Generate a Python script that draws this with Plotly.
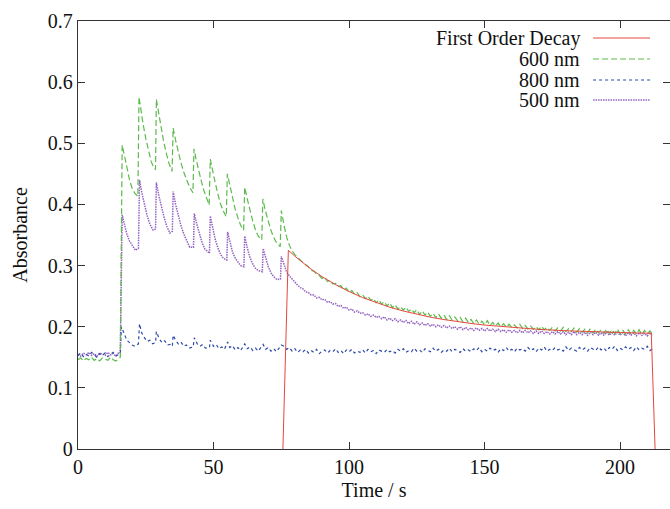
import plotly.graph_objects as go

# ---------------- data ----------------
base_t = [0, 1, 2, 3, 4, 5, 6, 7, 8, 9, 10, 11, 12, 13, 14, 15]
green_base = [0.146, 0.149, 0.144, 0.148, 0.146, 0.150, 0.145, 0.148, 0.144, 0.149, 0.147, 0.145, 0.150, 0.146, 0.144, 0.148]
purple_base = [0.155, 0.152, 0.157, 0.154, 0.158, 0.153, 0.156, 0.152, 0.157, 0.155, 0.153, 0.158, 0.154, 0.156, 0.152, 0.157]
blue_base = [0.153, 0.157, 0.151, 0.155, 0.152, 0.158, 0.154, 0.150, 0.156, 0.153, 0.157, 0.151, 0.155, 0.158, 0.152, 0.154]

green_saw_t = [15.6, 16.3, 17.0, 18.0, 19.0, 20.0, 21.0, 22.1, 22.5, 23.0, 24.0, 25.0, 26.0, 27.0, 28.0, 28.6,
               28.9, 29.5, 30.5, 31.5, 32.5, 33.5, 34.7, 35.1, 36.0, 37.0, 38.0, 39.0, 40.0, 41.0, 42.4,
               42.8, 43.5, 44.5, 45.5, 46.5, 47.5, 48.4, 48.8, 49.5, 50.5, 51.5, 52.5, 53.5, 54.7,
               55.1, 56.0, 57.0, 58.0, 59.0, 60.0, 61.1, 61.5, 62.5, 63.5, 64.5, 65.5, 66.5, 67.8,
               68.2, 69.0, 70.0, 71.0, 72.0, 73.0, 74.6, 75.0]
green_saw = [0.150, 0.497, 0.480, 0.462, 0.440, 0.426, 0.418, 0.413, 0.576, 0.560, 0.532, 0.508, 0.488, 0.470, 0.460, 0.457,
             0.572, 0.555, 0.528, 0.505, 0.485, 0.468, 0.454, 0.525, 0.505, 0.485, 0.468, 0.453, 0.440, 0.430, 0.419,
             0.491, 0.475, 0.455, 0.438, 0.422, 0.408, 0.399, 0.474, 0.458, 0.438, 0.419, 0.402, 0.390, 0.380,
             0.450, 0.432, 0.410, 0.392, 0.378, 0.366, 0.358, 0.428, 0.408, 0.388, 0.372, 0.358, 0.348, 0.342,
             0.409, 0.392, 0.375, 0.360, 0.348, 0.339, 0.331, 0.390]

purple_saw_t = [15.6, 16.3, 17.0, 18.0, 19.0, 20.0, 21.2, 22.3, 22.7, 23.5, 24.5, 25.5, 26.5, 27.7, 28.6,
                28.9, 29.8, 30.8, 31.8, 32.8, 33.9, 34.8, 35.1, 36.0, 37.0, 38.0, 39.0, 40.0, 41.2, 42.6,
                42.9, 43.8, 44.8, 45.8, 46.8, 48.5, 48.8, 49.6, 50.6, 51.6, 52.6, 53.6, 54.9,
                55.2, 56.0, 57.0, 58.0, 59.0, 60.0, 61.2, 61.5, 62.4, 63.4, 64.4, 65.4, 66.4, 68.0,
                68.3, 69.2, 70.2, 71.2, 72.2, 73.4, 74.7, 75.0]
purple_saw = [0.157, 0.383, 0.370, 0.352, 0.340, 0.333, 0.325, 0.328, 0.440, 0.420, 0.400, 0.382, 0.368, 0.358, 0.360,
              0.436, 0.415, 0.395, 0.378, 0.364, 0.353, 0.356, 0.421, 0.400, 0.380, 0.365, 0.352, 0.342, 0.330, 0.330,
              0.385, 0.368, 0.350, 0.337, 0.327, 0.320, 0.381, 0.362, 0.343, 0.329, 0.318, 0.312, 0.309,
              0.355, 0.338, 0.322, 0.312, 0.305, 0.300, 0.298, 0.348, 0.330, 0.314, 0.303, 0.296, 0.292, 0.290,
              0.328, 0.312, 0.298, 0.288, 0.282, 0.277, 0.278, 0.315]

blue_saw_t = [15.6, 16.0, 17.0, 18.0, 19.0, 20.0, 21.0, 22.3, 22.7, 23.5, 24.5, 25.5, 26.5, 27.5, 28.6,
              28.9, 30.0, 31.0, 32.0, 33.0, 34.0, 34.8, 35.1, 36.0, 37.0, 38.0, 39.0, 40.0, 41.0, 42.5,
              42.9, 44.0, 45.0, 46.0, 47.0, 48.5, 48.8, 50.0, 51.0, 52.0, 53.0, 54.0,
              55.2, 56.0, 57.0, 58.0, 59.0, 60.0, 61.5, 62.5, 63.5, 64.5, 65.5, 66.5,
              68.3, 69.2, 70.2, 71.2, 72.2, 73.2, 75.0]
blue_saw = [0.156, 0.200, 0.188, 0.178, 0.174, 0.170, 0.168, 0.172, 0.205, 0.190, 0.182, 0.176, 0.178, 0.172, 0.174,
            0.192, 0.180, 0.174, 0.177, 0.170, 0.171, 0.168, 0.186, 0.178, 0.172, 0.175, 0.168, 0.170, 0.165, 0.167,
            0.182, 0.172, 0.168, 0.171, 0.165, 0.166, 0.178, 0.168, 0.171, 0.164, 0.167, 0.163,
            0.175, 0.166, 0.169, 0.162, 0.166, 0.161, 0.172, 0.164, 0.167, 0.161, 0.165, 0.160,
            0.171, 0.163, 0.166, 0.160, 0.164, 0.159, 0.170]

tail_t = list(range(76, 213))
green_tail = [
    0.366, 0.346, 0.333, 0.324, 0.318, 0.313, 0.309, 0.305, 0.301, 0.298,
    0.292, 0.291, 0.286, 0.284, 0.279, 0.281, 0.274, 0.276, 0.270, 0.271,
    0.266, 0.267, 0.260, 0.263, 0.256, 0.259, 0.253, 0.256, 0.249, 0.252,
    0.246, 0.250, 0.243, 0.246, 0.239, 0.244, 0.237, 0.241, 0.234, 0.239,
    0.231, 0.236, 0.229, 0.233, 0.227, 0.232, 0.225, 0.229, 0.223, 0.228,
    0.220, 0.226, 0.219, 0.224, 0.217, 0.222, 0.215, 0.221, 0.214, 0.219,
    0.212, 0.218, 0.211, 0.216, 0.210, 0.215, 0.208, 0.214, 0.207, 0.212,
    0.205, 0.211, 0.204, 0.209, 0.203, 0.210, 0.202, 0.207, 0.201, 0.206,
    0.200, 0.205, 0.199, 0.204, 0.199, 0.203, 0.198, 0.204, 0.197, 0.202,
    0.196, 0.201, 0.196, 0.200, 0.195, 0.201, 0.195, 0.199, 0.194, 0.199,
    0.193, 0.198, 0.193, 0.199, 0.192, 0.197, 0.192, 0.198, 0.191, 0.197,
    0.191, 0.196, 0.190, 0.197, 0.190, 0.196, 0.190, 0.195, 0.189, 0.196,
    0.189, 0.195, 0.189, 0.196, 0.188, 0.194, 0.188, 0.195, 0.188, 0.194,
    0.188, 0.195, 0.187, 0.194, 0.188, 0.193, 0.188]
purple_tail = [
    0.300, 0.289, 0.283, 0.277, 0.273, 0.268, 0.264, 0.262, 0.257, 0.256,
    0.252, 0.252, 0.247, 0.248, 0.244, 0.245, 0.240, 0.241, 0.237, 0.238,
    0.233, 0.235, 0.230, 0.232, 0.227, 0.229, 0.224, 0.226, 0.222, 0.223,
    0.219, 0.221, 0.217, 0.219, 0.215, 0.217, 0.213, 0.216, 0.211, 0.214,
    0.210, 0.213, 0.208, 0.211, 0.207, 0.210, 0.205, 0.209, 0.204, 0.208,
    0.203, 0.206, 0.202, 0.205, 0.201, 0.204, 0.200, 0.203, 0.199, 0.202,
    0.198, 0.201, 0.197, 0.200, 0.196, 0.200, 0.195, 0.199, 0.195, 0.198,
    0.194, 0.198, 0.194, 0.197, 0.193, 0.197, 0.193, 0.196, 0.192, 0.196,
    0.192, 0.195, 0.191, 0.195, 0.191, 0.194, 0.190, 0.194, 0.190, 0.194,
    0.190, 0.193, 0.189, 0.193, 0.189, 0.193, 0.189, 0.192, 0.188, 0.192,
    0.188, 0.192, 0.188, 0.192, 0.187, 0.191, 0.187, 0.192, 0.187, 0.191,
    0.187, 0.191, 0.186, 0.191, 0.187, 0.191, 0.186, 0.190, 0.186, 0.191,
    0.186, 0.190, 0.186, 0.191, 0.186, 0.190, 0.185, 0.190, 0.186, 0.190,
    0.185, 0.190, 0.186, 0.189, 0.185, 0.190, 0.186]
blue_tail = [
    0.168, 0.163, 0.166, 0.160, 0.164, 0.158, 0.162, 0.159, 0.163, 0.157,
    0.161, 0.158, 0.163, 0.156, 0.160, 0.162, 0.157, 0.161, 0.159, 0.164,
    0.158, 0.161, 0.156, 0.162, 0.159, 0.163, 0.157, 0.160, 0.158, 0.162,
    0.157, 0.163, 0.159, 0.161, 0.156, 0.162, 0.160, 0.158, 0.163, 0.159,
    0.161, 0.157, 0.163, 0.160, 0.164, 0.158, 0.161, 0.159, 0.165, 0.160,
    0.162, 0.158, 0.164, 0.161, 0.159, 0.165, 0.160, 0.163, 0.158, 0.162,
    0.160, 0.165, 0.159, 0.163, 0.161, 0.158, 0.164, 0.160, 0.162, 0.159,
    0.164, 0.161, 0.166, 0.159, 0.163, 0.160, 0.165, 0.161, 0.163, 0.158,
    0.164, 0.161, 0.166, 0.160, 0.163, 0.159, 0.165, 0.162, 0.164, 0.160,
    0.166, 0.161, 0.164, 0.159, 0.165, 0.162, 0.167, 0.160, 0.163, 0.161,
    0.166, 0.162, 0.164, 0.160, 0.167, 0.161, 0.165, 0.163, 0.160, 0.166,
    0.162, 0.165, 0.160, 0.166, 0.163, 0.161, 0.167, 0.162, 0.165, 0.160,
    0.166, 0.163, 0.168, 0.161, 0.165, 0.162, 0.167, 0.163, 0.166, 0.161,
    0.167, 0.162, 0.165, 0.163, 0.168, 0.161, 0.164]

fit_t = [75.6, 77.6, 80, 82.5, 85, 87.5, 90, 95, 100, 105, 110, 115, 120, 125, 130, 135, 140, 145,
         150, 160, 170, 180, 190, 200, 211.5, 212.9]
fit_v = [0.0, 0.325, 0.3154, 0.306, 0.2975, 0.2895, 0.282, 0.2689, 0.2575, 0.2477, 0.2392, 0.2319,
         0.2257, 0.2203, 0.2156, 0.2117, 0.2082, 0.2053, 0.2027, 0.1986, 0.1956, 0.1934, 0.1917,
         0.1905, 0.1893, 0.0]

x_ticks = [0, 50, 100, 150, 200]
y_ticks = [0, 0.1, 0.2, 0.3, 0.4, 0.5, 0.6, 0.7]
y_tick_text = ["0", "0.1", "0.2", "0.3", "0.4", "0.5", "0.6", "0.7"]

legend_names = ["First Order Decay", "600 nm", "800 nm", "500 nm"]
colors = ["#e5483c", "#5cba4c", "#2f4aa8", "#9262c0"]
dashes = ["solid", "6px,3px", "3px,3px", "1.5px,1px"]
widths = [1.0, 1.2, 1.2, 1.5]

# ---------------- figure ----------------
FONT = "Liberation Serif, Times New Roman, serif"
fig = go.Figure()

series = [
    (base_t + purple_saw_t + tail_t, purple_base + purple_saw + purple_tail, 3),
    (base_t + blue_saw_t + tail_t, blue_base + blue_saw + blue_tail, 2),
    (base_t + green_saw_t + tail_t, green_base + green_saw + green_tail, 1),
    (fit_t, fit_v, 0),
]
for xs, ys, idx in series:
    fig.add_trace(go.Scatter(
        x=xs, y=ys, mode="lines", name=legend_names[idx], showlegend=False,
        line=dict(color=colors[idx], width=widths[idx], dash=dashes[idx]),
    ))

# custom legend (text right-aligned, sample on the right, as in gnuplot)
L, R, T, B = 77.5, 670, 21, 449
def px(x):
    return (x - L) / (R - L)
def py(y):
    return (B - y) / (B - T)

rows_y = [38, 59, 80, 100]
for i, name in enumerate(legend_names):
    fig.add_annotation(x=px(582), y=py(rows_y[i]), xref="paper", yref="paper",
                       text=name, showarrow=False, xanchor="right", yanchor="middle",
                       font=dict(family=FONT, size=20, color="#111"))
    fig.add_shape(type="line", xref="paper", yref="paper",
                  x0=px(593), x1=px(650), y0=py(rows_y[i]), y1=py(rows_y[i]),
                  line=dict(color=colors[i], width=widths[i], dash=dashes[i]))

axis_common = dict(showline=True, linecolor="#333", linewidth=1.3, mirror="ticks",
                   ticks="inside", ticklen=7, tickcolor="#333", tickwidth=1.2,
                   showgrid=False, zeroline=False,
                   tickfont=dict(family=FONT, size=20, color="#111"))

fig.update_layout(
    width=670, height=509,
    margin=dict(l=77.5, r=0, t=21, b=60),
    paper_bgcolor="white", plot_bgcolor="white",
    showlegend=False,
    xaxis=dict(range=[0, 218.4], tickvals=x_ticks, ticktext=[str(v) for v in x_ticks],
               title=dict(text="Time / s", font=dict(family=FONT, size=20, color="#111"), standoff=5),
               **axis_common),
    yaxis=dict(range=[0, 0.7], tickvals=y_ticks, ticktext=y_tick_text,
               title=dict(text="Absorbance", font=dict(family=FONT, size=20, color="#111"), standoff=14),
               **axis_common),
)

fig.write_html("out.html")
